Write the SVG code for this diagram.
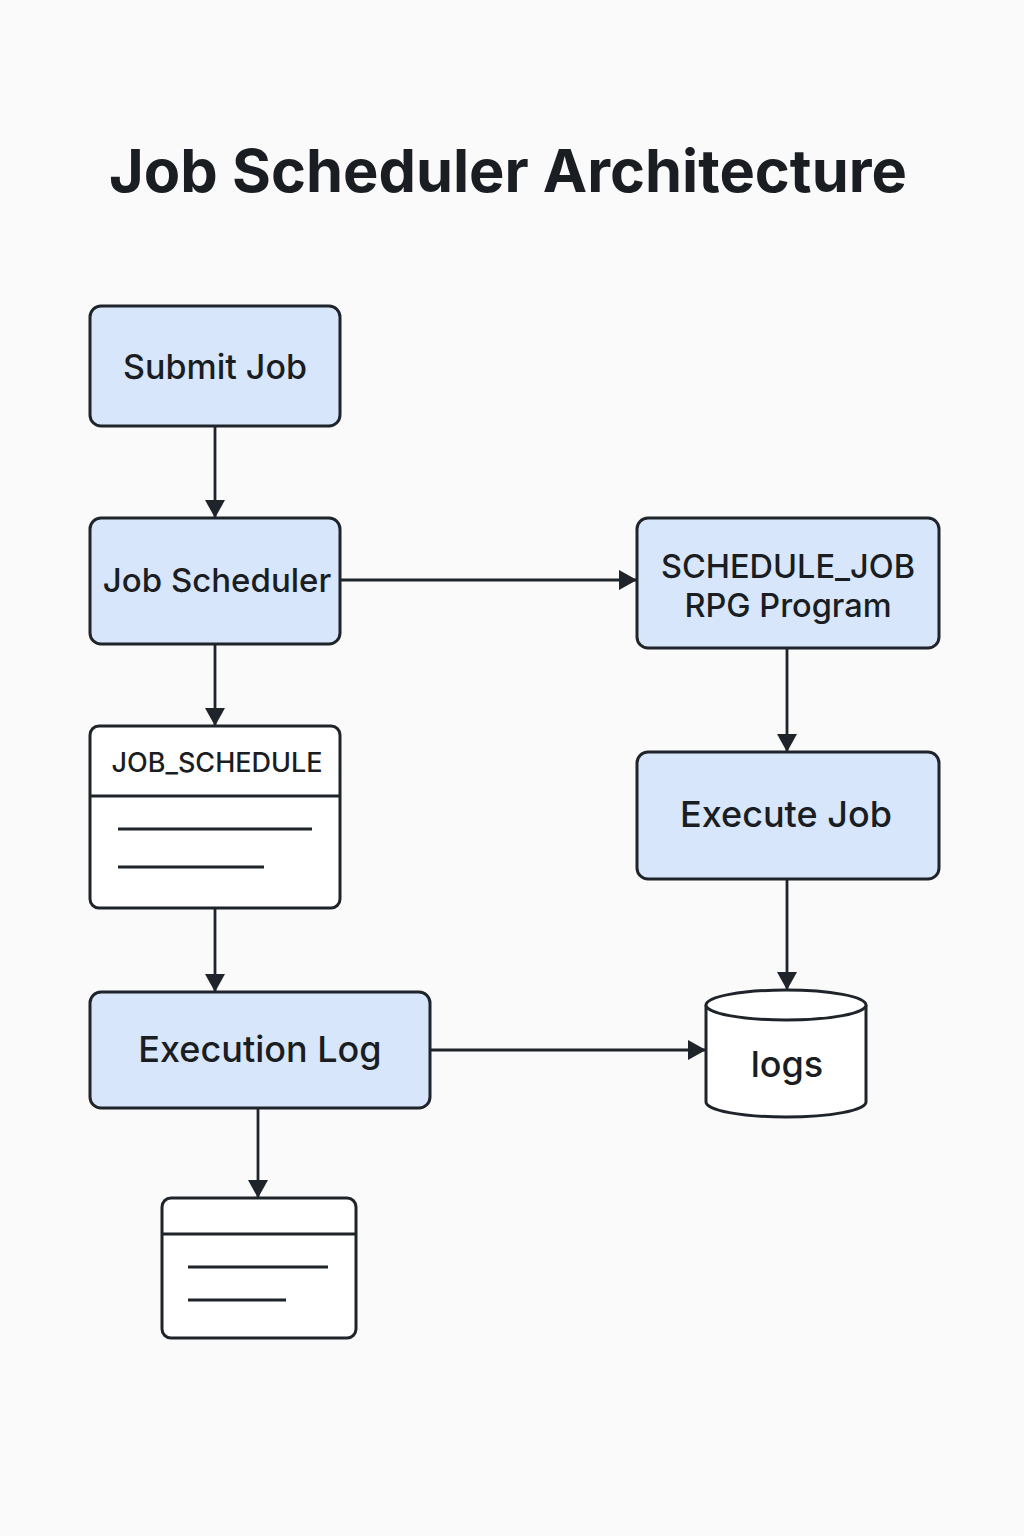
<svg xmlns="http://www.w3.org/2000/svg" width="1024" height="1536" viewBox="0 0 1024 1536">
<style>
.box{fill:#d7e6fb;stroke:#1f242b;stroke-width:3}
.wbox{fill:#ffffff;stroke:#1f242b;stroke-width:3}
.ln{stroke:#1f242b;stroke-width:3;fill:none}
.conn{stroke:#1f242b;stroke-width:2.8;fill:none;marker-end:url(#arr)}
.t{font-family:Inter,"Liberation Sans",sans-serif;fill:#1a1d22;text-anchor:middle;font-weight:500}
</style>
<defs>
<marker id="arr" markerWidth="24" markerHeight="20" refX="18" refY="10" orient="auto" markerUnits="userSpaceOnUse">
<path d="M0,0 L18,10 L0,20 Z" fill="#1f242b"/>
</marker>
</defs>
<rect width="1024" height="1536" fill="#fafafa"/>
<text class="t" x="508" y="192" font-size="59.5" font-weight="bold" style="font-weight:700">Job Scheduler Architecture</text>

<g id="connectors">
<line class="conn" x1="215" y1="426" x2="215" y2="518"/>
<line class="conn" x1="215" y1="644" x2="215" y2="726"/>
<line class="conn" x1="215" y1="908" x2="215" y2="992"/>
<line class="conn" x1="258" y1="1108" x2="258" y2="1198"/>
<line class="conn" x1="340" y1="580" x2="637" y2="580"/>
<line class="conn" x1="787" y1="648" x2="787" y2="752"/>
<line class="conn" x1="787" y1="879" x2="787" y2="990"/>
<line class="conn" x1="430" y1="1050" x2="706" y2="1050"/>
</g>

<g id="submit-job">
<rect class="box" x="90" y="306" width="250" height="120" rx="11"/>
<text class="t" x="215" y="379" font-size="34">Submit Job</text>
</g>
<g id="job-scheduler">
<rect class="box" x="90" y="518" width="250" height="126" rx="11"/>
<text class="t" x="217" y="592" font-size="33">Job Scheduler</text>
</g>
<g id="job-schedule-table">
<rect class="wbox" x="90" y="726" width="250" height="182" rx="9"/>
<line class="ln" x1="90" y1="796" x2="340" y2="796"/>
<text class="t" x="217" y="772" font-size="27">JOB_SCHEDULE</text>
<line class="ln" x1="118" y1="829" x2="312" y2="829"/>
<line class="ln" x1="118" y1="867" x2="264" y2="867"/>
</g>
<g id="execution-log">
<rect class="box" x="90" y="992" width="340" height="116" rx="11"/>
<text class="t" x="260" y="1062" font-size="36">Execution Log</text>
</g>
<g id="log-table">
<rect class="wbox" x="162" y="1198" width="194" height="140" rx="9"/>
<line class="ln" x1="162" y1="1234" x2="356" y2="1234"/>
<line class="ln" x1="188" y1="1267" x2="328" y2="1267"/>
<line class="ln" x1="188" y1="1300" x2="286" y2="1300"/>
</g>
<g id="schedule-job">
<rect class="box" x="637" y="518" width="302" height="130" rx="11"/>
<text class="t" x="788" y="578" font-size="32.5">SCHEDULE_JOB</text>
<text class="t" x="788" y="617" font-size="32.5">RPG Program</text>
</g>
<g id="execute-job">
<rect class="box" x="637" y="752" width="302" height="127" rx="11"/>
<text class="t" x="786" y="827" font-size="36">Execute Job</text>
</g>
<g id="logs">
<path class="wbox" d="M706,1005 L706,1102 A80,15 0 0 0 866,1102 L866,1005"/>
<ellipse class="wbox" cx="786" cy="1005" rx="80" ry="15"/>
<text class="t" x="787" y="1077" font-size="36">logs</text>
</g>
</svg>
